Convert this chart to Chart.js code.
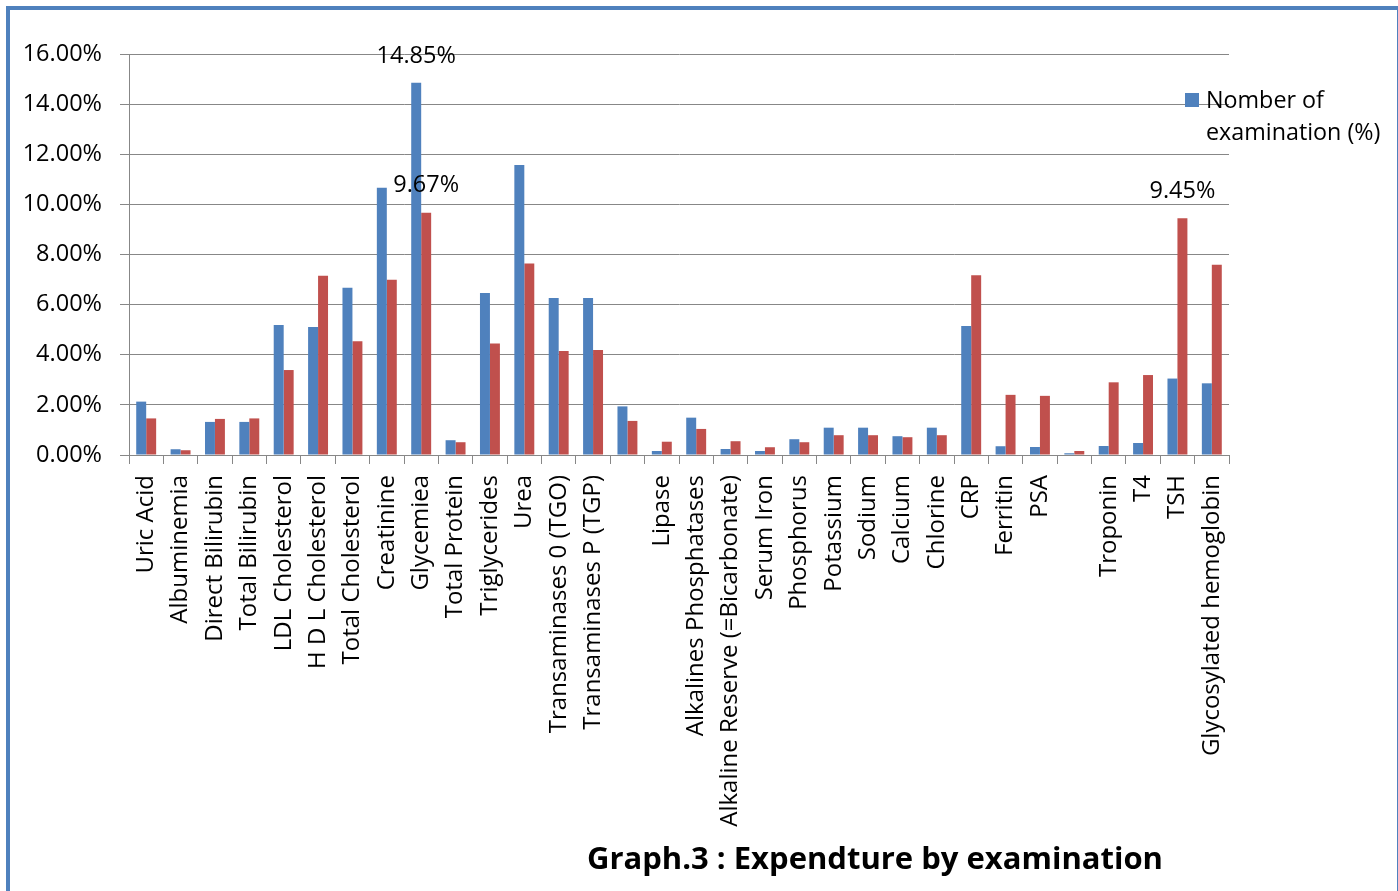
<!DOCTYPE html>
<html>
<head>
<meta charset="utf-8">
<script src="https://cdn.jsdelivr.net/npm/chart.js@4.4.1/dist/chart.umd.min.js"></script>
<style>
  body { margin: 0; background: #fff; font-family: "Open Sans", sans-serif; }
  #wrap { position: relative; width: 1398px; height: 891px; overflow: hidden; }
  #frame { position: absolute; left: 6px; top: 6px; width: 1387px; height: 900px;
           border: 4px solid #4F81BD; border-bottom: none; box-sizing: content-box; }
  #chart { position: absolute; left: 0; top: 0; }
  #legend { position: absolute; left: 1185px; top: 83px; font-size: 23.3px; line-height: 32px; color: #000; }
  #legend .box { position: absolute; left: 0; top: 10px; width: 14px; height: 14px; background: #4F81BD; }
  #legend .txt { margin-left: 21px; white-space: nowrap; }
  #title { position: absolute; left: 475px; width: 800px; top: 836px; text-align: center;
           font-weight: bold; font-size: 31px; line-height: 42px; color: #000; }
</style>
</head>
<body>
<div id="wrap">
  <div id="frame"></div>
  <canvas id="chart" width="1398" height="891"></canvas>
  <div id="legend"><div class="box"></div><div class="txt">Nomber of<br>examination (%)</div></div>
  <div id="title">Graph.3 : Expendture by examination</div>
</div>
<script>
// kategorier (tomme navne står tomme som i originalen)
const categories = ['Uric Acid', 'Albuminemia', 'Direct Bilirubin', 'Total Bilirubin', 'LDL Cholesterol',
  'H D L Cholesterol', 'Total Cholesterol', 'Creatinine', 'Glycemiea', 'Total Protein', 'Triglycerides',
  'Urea', 'Transaminases 0 (TGO)', 'Transaminases P (TGP)', '', 'Lipase', 'Alkalines Phosphatases',
  'Alkaline Reserve (=Bicarbonate)', 'Serum Iron', 'Phosphorus', 'Potassium', 'Sodium', 'Calcium',
  'Chlorine', 'CRP', 'Ferritin', 'PSA', '', 'Troponin', 'T4', 'TSH', 'Glycosylated hemoglobin'];

// antal undersøgelser (%)
const examinations = [2.13, 0.23, 1.32, 1.32, 5.19, 5.11, 6.67, 10.66, 14.85, 0.59, 6.46, 11.57, 6.26, 6.26,
  1.94, 0.16, 1.49, 0.24, 0.16, 0.63, 1.09, 1.09, 0.75, 1.09, 5.15, 0.35, 0.32, 0.07, 0.36, 0.48, 3.05, 2.86];

// udgifter (%)
const expenditure = [1.46, 0.19, 1.44, 1.46, 3.39, 7.15, 4.54, 6.99, 9.67, 0.51, 4.45, 7.64, 4.15, 4.19,
  1.36, 0.53, 1.04, 0.55, 0.31, 0.51, 0.79, 0.79, 0.71, 0.79, 7.17, 2.40, 2.36, 0.16, 2.90, 3.19, 9.45, 7.59];

const yTicks = [0, 2, 4, 6, 8, 10, 12, 14, 16];

// hvilke søjler der har værdi-label: [datasæt, index]
const labelled = [[0, 8], [1, 8], [1, 30]];

const FAMILY = '"Open Sans", sans-serif';
const TICK_FONT = { family: FAMILY, size: 23.5 };
const CAT_FONT = { family: FAMILY, size: 24 };
const GRID = '#878787';

// tegner værdierne over udvalgte søjler
const valueLabels = {
  id: 'valueLabels',
  afterDatasetsDraw(chart) {
    const ctx = chart.ctx;
    ctx.save();
    ctx.font = TICK_FONT.size + 'px ' + FAMILY;
    ctx.fillStyle = '#000';
    ctx.textAlign = 'center';
    ctx.textBaseline = 'middle';
    labelled.forEach(([ds, i]) => {
      const bar = chart.getDatasetMeta(ds).data[i];
      const v = chart.data.datasets[ds].data[i];
      ctx.fillText(v.toFixed(2) + '%', bar.x, bar.y - 27);
    });
    ctx.restore();
  }
};

new Chart(document.getElementById('chart'), {
  type: 'bar',
  data: {
    labels: categories,
    datasets: [{
      label: 'Nomber of examination (%)',
      data: examinations,
      backgroundColor: '#4F81BD',
      borderWidth: 0
    }, {
      label: 'Expenditure (%)',
      data: expenditure,
      backgroundColor: '#C0504D',
      borderWidth: 0
    }]
  },
  options: {
    responsive: false,
    animation: false,
    categoryPercentage: 0.58,
    barPercentage: 1.0,
    layout: { padding: { top: 54, right: 169, bottom: 0, left: 0 } },
    plugins: {
      legend: { display: false },
      tooltip: { enabled: false }
    },
    scales: {
      x: {
        afterFit(scale) { scale.height = 436; },
        grid: { color: GRID, drawOnChartArea: false, drawTicks: true, tickLength: 9, lineWidth: 1 },
        border: { color: GRID, width: 1 },
        ticks: {
          autoSkip: false, minRotation: 90, maxRotation: 90, padding: 11,
          color: '#000', font: CAT_FONT
        }
      },
      y: {
        min: 0, max: 16,
        afterFit(scale) { scale.width = 129; },
        afterBuildTicks(scale) { scale.ticks = yTicks.map(v => ({ value: v })); },
        grid: { color: GRID, lineWidth: 1, tickLength: 9 },
        border: { color: GRID, width: 1 },
        ticks: {
          padding: 18, color: '#000', font: TICK_FONT,
          callback: v => v.toFixed(2) + '%'
        }
      }
    }
  },
  plugins: [valueLabels]
});
</script>
</body>
</html>
